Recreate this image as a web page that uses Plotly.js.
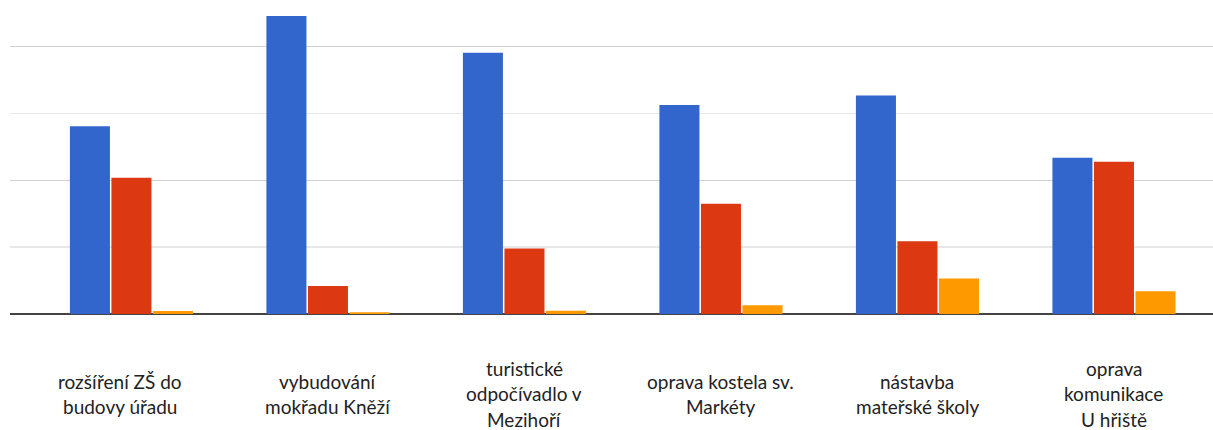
<!DOCTYPE html>
<html>
<head>
<meta charset="utf-8">
<script src="https://cdn.plot.ly/plotly-3.0.1.min.js"></script>
<style>html,body{margin:0;padding:0;background:#fff;}#chart{width:1213px;height:430px;}</style>
</head>
<body>
<div id="chart"></div>
<script>
const categoryLines = [
  ['rozšíření ZŠ do', 'budovy úřadu'],
  ['vybudování', 'mokřadu Kněží'],
  ['turistické', 'odpočívadlo v', 'Mezihoří'],
  ['oprava kostela sv.', 'Markéty'],
  ['nástavba', 'mateřské školy'],
  ['oprava', 'komunikace', 'U hřiště']
];
const categories = categoryLines.map(l => l.join(' '));
const seriesBlue = [28.1, 44.6, 39.1, 31.3, 32.7, 23.4];
const seriesRed = [20.4, 4.2, 9.8, 16.5, 10.9, 22.8];
const seriesOrange = [0.45, 0.25, 0.5, 1.3, 5.3, 3.4];
const colors = ['#3366cc', '#dc3912', '#ff9900'];

const traces = [seriesBlue, seriesRed, seriesOrange].map((vals, i) => ({
  type: 'bar',
  x: categories,
  y: vals,
  marker: {color: colors[i], line: {width: 0}},
  hoverinfo: 'none'
}));

const annotations = [];
const lineGap = 25.3;
const centerBelow = 79.8;
categoryLines.forEach((lines, ci) => {
  const n = lines.length;
  lines.forEach((txt, li) => {
    annotations.push({
      xref: 'x', yref: 'paper',
      x: categories[ci], y: 0,
      text: txt,
      showarrow: false,
      xanchor: 'center', yanchor: 'middle',
      height: 21, valign: 'middle',
      xshift: ci === 0 ? -11 : 0,
      yshift: -(centerBelow + (li - (n - 1) / 2) * lineGap),
      font: {family: 'Lato, sans-serif', size: 19, color: '#222'}
    });
  });
});

const layout = {
  width: 1213, height: 430,
  margin: {l: 10, r: 0, t: 0, b: 115.7},
  paper_bgcolor: '#fff', plot_bgcolor: '#fff',
  showlegend: false,
  barmode: 'group',
  bargap: 0.366,
  bargroupgap: 0.036,
  xaxis: {
    type: 'category',
    range: [-0.618, 5.504],
    showticklabels: false,
    showgrid: false, zeroline: false, showline: false, ticks: ''
  },
  yaxis: {
    range: [0, 47],
    dtick: 20,
    showticklabels: false,
    showgrid: true, gridcolor: '#d0d0d0', gridwidth: 1.4,
    minor: {dtick: 10, showgrid: true, gridcolor: '#e8e8e8', gridwidth: 1.4},
    zeroline: true, zerolinecolor: '#444', zerolinewidth: 1.6,
    ticks: ''
  },
  annotations: annotations
};

Plotly.newPlot('chart', traces, layout, {displayModeBar: false, staticPlot: true});
</script>
</body>
</html>
